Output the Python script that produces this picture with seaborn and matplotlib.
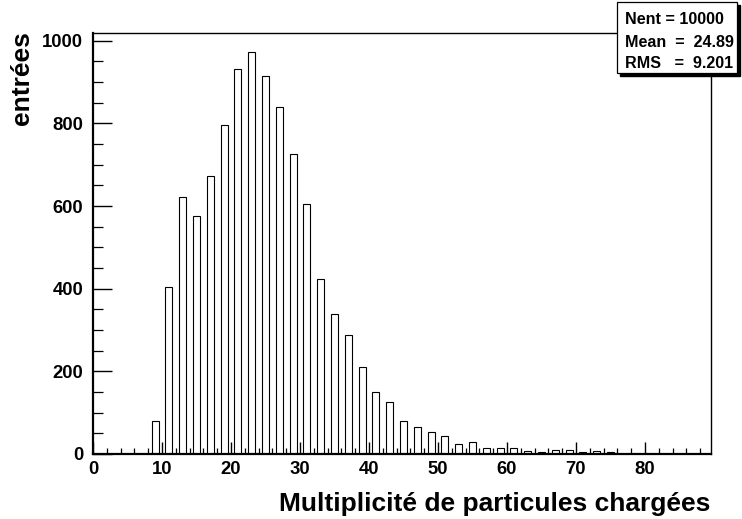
import numpy as np
import pandas as pd
import matplotlib
matplotlib.use("Agg")
import matplotlib.pyplot as plt
from matplotlib.ticker import MultipleLocator
from matplotlib.patches import Rectangle
import seaborn as sns

# ---- data ----
multiplicity = [9, 11, 13, 15, 17, 19, 21, 23, 25, 27, 29, 31, 33, 35, 37, 39, 41, 43,
                45, 47, 49, 51, 53, 55, 57, 59, 61, 63, 65, 67, 69, 71, 73, 75, 77]
counts = [81, 405, 623, 575, 673, 795, 931, 972, 915, 839, 726, 604, 424, 340, 287, 210,
          149, 127, 81, 66, 54, 43, 23, 28, 15, 15, 14, 8, 6, 9, 10, 6, 8, 6, 1]
x_ticks = [0, 10, 20, 30, 40, 50, 60, 70, 80]
y_ticks = [0, 200, 400, 600, 800, 1000]
stat_lines = ["Nent = 10000", "Mean  =  24.89", "RMS   =  9.201"]
x_title = "Multiplicité de particules chargées"
y_title = "entrées"

sns.set_theme(style="ticks")
plt.rcParams["font.family"] = ["Liberation Sans", "DejaVu Sans"]
plt.rcParams["font.weight"] = "bold"
for k in ["text.color", "axes.labelcolor", "xtick.color", "ytick.color", "axes.edgecolor"]:
    plt.rcParams[k] = "black"

W, H = 742, 519
fig = plt.figure(figsize=(W / 100, H / 100), dpi=100)
fig.patch.set_facecolor("white")
ax = fig.add_axes([93 / W, 1 - 454 / H, (710.5 - 93) / W, (454 - 32.5) / H])
ax.set_facecolor("white")

df = pd.DataFrame({"mult": multiplicity, "n": counts})
sns.histplot(data=df, x="mult", weights="n", discrete=True, ax=ax,
             color="white", edgecolor="black", linewidth=0.8, alpha=1.0)

ax.set_xlim(0, 89.5)
ax.set_ylim(0, 1020)
ax.set_xlabel("")
ax.set_ylabel("")
ax.set_xticks(x_ticks)
ax.set_yticks(y_ticks)
ax.xaxis.set_minor_locator(MultipleLocator(2))
ax.yaxis.set_minor_locator(MultipleLocator(50))
ax.tick_params(axis="x", which="major", direction="in", length=9, width=1.0,
               labelsize=13.3, pad=5, color="black", labelcolor="black")
ax.tick_params(axis="x", which="minor", direction="in", length=4.5, width=0.9, color="black")
ax.tick_params(axis="y", which="major", direction="in", length=13.7, width=1.0,
               labelsize=13.3, pad=7, color="black", labelcolor="black")
ax.tick_params(axis="y", which="minor", direction="in", length=7.2, width=0.9, color="black")
for lab in ax.get_xticklabels() + ax.get_yticklabels():
    lab.set_fontweight("bold")
for s in ["left", "bottom"]:
    ax.spines[s].set_linewidth(1.6)
    ax.spines[s].set_color("black")
for s in ["top", "right"]:
    ax.spines[s].set_linewidth(1.0)
    ax.spines[s].set_color("black")

fig.text(710 / W, 1 - 511.5 / H, x_title, ha="right", va="baseline",
         fontsize=19, fontweight="bold", color="black")
fig.text(22 / W, 1 - 31 / H, y_title, ha="center", va="top", rotation=90,
         fontsize=19, fontweight="bold", color="black")

# stats box
bx0, bx1, by0, by1 = 617, 737, 2, 73
shadow = Rectangle(((bx0 + 3) / W, 1 - (by1 + 3) / H), (bx1 - bx0) / W,
                   (by1 - by0) / H, transform=fig.transFigure, facecolor="black",
                   edgecolor="black", zorder=5)
box = Rectangle((bx0 / W, 1 - by1 / H), (bx1 - bx0) / W, (by1 - by0) / H,
                transform=fig.transFigure, facecolor="white", edgecolor="black",
                linewidth=0.9, zorder=6)
fig.patches.extend([shadow, box])
line_y = [20, 42.5, 64]
for txt, yy in zip(stat_lines, line_y):
    fig.text(625 / W, 1 - yy / H, txt, ha="left", va="center", fontsize=11.6,
             fontweight="bold", color="black", zorder=7)

fig.savefig("out.png", dpi=100, facecolor="white")
